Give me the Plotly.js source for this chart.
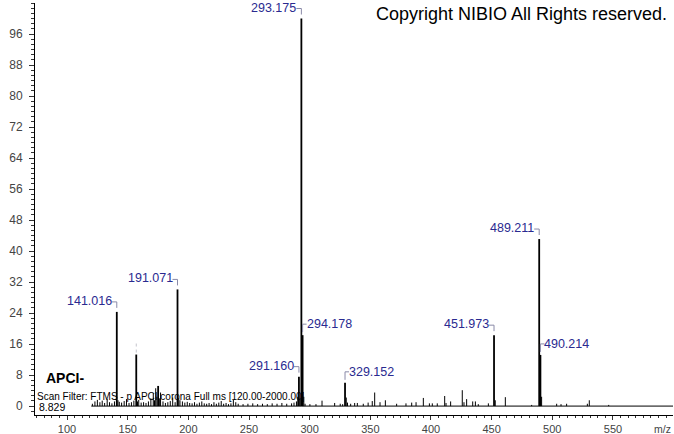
<!DOCTYPE html>
<html>
<head>
<meta charset="utf-8">
<script src="https://cdn.plot.ly/plotly-3.0.1.min.js"></script>
<style>html,body{margin:0;padding:0;background:#fff;}#chart{width:674px;height:434px;}</style>
</head>
<body>
<div id="chart"></div>
<script>
// Spectrum peaks (m/z, relative abundance)
const mz = [
  120.9,123.0,125.0,127.1,129.0,131.0,133.1,135.0,137.0,139.1,
  141.016,142.0,143.1,145.0,147.1,149.0,151.1,153.1,155.1,157.07,
  158.1,159.1,161.1,163.1,165.1,167.1,169.1,171.1,172.1,173.1,
  174.1,175.1,176.1,177.1,179.1,181.1,183.1,185.1,187.1,189.1,
  191.071,192.1,193.1,195.1,197.1,199.1,201.1,203.1,205.1,207.1,
  209.1,211.1,213.1,215.1,217.1,219.1,221.1,223.1,225.1,227.1,
  229.1,231.1,233.1,235.1,237.1,239.1,241.1,245.1,249.1,253.1,
  257.1,261.1,265.1,269.1,273.1,277.1,281.1,285.1,287.1,289.1,
  290.2,291.160,292.2,293.175,294.178,295.18,296.2,300.2,305.2,310.2,
  320.6,325.2,327.2,329.152,330.16,331.2,333.8,337.1,339.3,344.2,
  348.2,351.6,353.6,358.0,362.4,371.7,379.4,384.1,387.7,393.7,
  398.7,401.1,405.2,411.3,412.4,416.2,425.8,427.2,429.4,434.4,
  436.6,439.0,447.3,451.973,452.97,461.3,483.0,489.211,490.214,491.2,
  503.6,507.2,511.8,528.9,530.5,546.5
];
const intensity = [
  0.6,1.2,1.6,1.0,1.4,0.8,1.8,1.0,0.7,1.2,
  24.3,1.5,1.1,0.9,1.3,1.8,0.8,1.0,1.4,13.3,
  1.2,1.6,0.9,1.0,0.8,1.2,2.0,3.2,1.5,4.6,
  2.4,5.2,2.0,3.5,1.2,0.8,1.0,1.3,2.2,1.0,
  30.1,2.0,1.5,1.2,0.9,1.1,0.8,0.7,1.0,0.6,
  0.9,1.2,0.7,0.6,0.8,0.5,1.0,0.6,0.9,1.3,
  0.6,0.8,0.5,0.7,1.6,1.0,0.6,0.5,0.6,0.7,
  0.5,0.6,0.5,0.7,0.6,0.8,0.6,0.7,0.9,1.2,
  2.4,7.6,2.0,100,18.3,2.4,0.6,0.5,0.5,1.4,
  0.8,0.6,0.5,6.0,2.2,0.9,0.6,0.8,0.8,0.6,
  0.9,1.3,3.5,1.0,1.5,0.6,0.7,0.9,1.0,2.1,
  0.7,0.7,0.7,2.6,0.8,1.2,4.1,1.0,1.8,1.2,
  1.2,0.5,0.7,18.3,1.5,2.3,0.3,43.1,13.2,2.4,
  0.6,0.5,0.6,0.6,1.5,0.3
];
// Labelled peaks
const labelMz   = [141.016, 191.071, 291.160, 293.175, 294.178, 329.152, 451.973, 489.211, 490.214];
const labelInt  = [24.3, 30.1, 7.6, 100, 18.3, 6.0, 18.3, 43.1, 13.2];
const labelText = ['141.016','191.071','291.160','293.175','294.178','329.152','451.973','489.211','490.214'];
const labelSide = ['left','left','left','left','right','right','left','left','right'];
// Peak with an empty label bracket
const markMz  = [157.07];
const markInt = [13.3];
// Scan range of the acquisition
const scanRange = [120.00, 2000.00];
const xTicks = [100,150,200,250,300,350,400,450,500,550];
const yTicks = [0,8,16,24,32,40,48,56,64,72,80,88,96];

function sticks(filterFn){
  const xs = [], ys = [];
  for (let i = 0; i < mz.length; i++) {
    if (!filterFn(intensity[i])) continue;
    xs.push(mz[i], mz[i], null);
    ys.push(0, intensity[i], null);
  }
  return {xs, ys};
}
const big = sticks(v => v >= 5);
const small = sticks(v => v < 5);

const traces = [
  {x: scanRange, y: [0, 0], mode: 'lines', line: {color: '#000', width: 1}, hoverinfo: 'skip'},
  {x: small.xs, y: small.ys, mode: 'lines', line: {color: '#000', width: 1}, hoverinfo: 'skip'},
  {x: big.xs, y: big.ys, mode: 'lines', line: {color: '#000', width: 1.8}, hoverinfo: 'skip'}
];

const fontFam = 'Liberation Sans, Arial, sans-serif';
const annotations = [];
const shapes = [];
const labelColor = '#2a2a90';
const bracketColor = '#8a8aa8';
for (let i = 0; i < labelMz.length; i++) {
  const left = labelSide[i] === 'left';
  annotations.push({
    x: labelMz[i], y: labelInt[i], xref: 'x', yref: 'y',
    text: labelText[i], showarrow: false,
    xanchor: left ? 'right' : 'left', yanchor: 'middle',
    xshift: left ? -3 : 2, yshift: 11,
    font: {family: fontFam, size: 12.5, color: labelColor}
  });
  shapes.push({
    type: 'path', xref: 'x', yref: 'y',
    xsizemode: 'pixel', ysizemode: 'pixel',
    xanchor: labelMz[i], yanchor: labelInt[i],
    path: left ? 'M -5 10 L 0 10 L 0 4' : 'M 0 3 L 0 11 L 4 11',
    line: {color: bracketColor, width: 1}
  });
}
for (let i = 0; i < markMz.length; i++) {
  shapes.push({
    type: 'path', xref: 'x', yref: 'y',
    xsizemode: 'pixel', ysizemode: 'pixel',
    xanchor: markMz[i], yanchor: markInt[i],
    path: 'M 0 2 L 0 12',
    line: {color: '#c4c4cc', width: 1, dash: 'dot'}
  });
}
annotations.push(
  {xref: 'paper', yref: 'paper', x: 1, y: 1, xanchor: 'right', yanchor: 'middle', xshift: -4, yshift: -11,
   text: 'Copyright NIBIO All Rights reserved.', showarrow: false,
   font: {family: fontFam, size: 18, color: '#000'}},
  {xref: 'paper', yref: 'paper', x: 0, y: 0, xanchor: 'left', yanchor: 'middle', xshift: 9, yshift: 37,
   text: '<b>APCI-</b>', showarrow: false,
   font: {family: fontFam, size: 14, color: '#000'}},
  {xref: 'paper', yref: 'paper', x: 0, y: 0, xanchor: 'left', yanchor: 'middle', xshift: 0, yshift: 19,
   text: 'Scan Filter: FTMS - p APCI corona Full ms [120.00-2000.00]', showarrow: false,
   font: {family: fontFam, size: 10, color: '#000'}},
  {xref: 'paper', yref: 'paper', x: 0, y: 0, xanchor: 'left', yanchor: 'middle', xshift: 2, yshift: 8,
   text: '8.829', showarrow: false,
   font: {family: fontFam, size: 10.5, color: '#000'}},
  {xref: 'paper', yref: 'paper', x: 1, y: 0, xanchor: 'right', yanchor: 'top', xshift: 0, yshift: -6,
   text: 'm/z', showarrow: false,
   font: {family: fontFam, size: 10.5, color: '#444'}}
);

const layout = {
  width: 674, height: 434,
  margin: {l: 35, r: 1, t: 3, b: 19, pad: 0},
  paper_bgcolor: '#fff', plot_bgcolor: '#fff',
  showlegend: false,
  font: {family: fontFam, size: 11, color: '#444'},
  xaxis: {
    range: [73.6, 599.5], showgrid: false, zeroline: false,
    showline: true, linecolor: '#000', linewidth: 1,
    ticks: 'outside', ticklen: 4, tickcolor: '#333',
    tickmode: 'array', tickvals: xTicks, ticktext: xTicks.map(String),
    tickfont: {family: fontFam, size: 11, color: '#444'},
    minor: {tick0: 0, dtick: 6.25, ticks: 'outside', ticklen: 2, tickcolor: '#333'}
  },
  yaxis: {
    range: [-2.3, 104], showgrid: false, zeroline: false,
    showline: true, linecolor: '#000', linewidth: 1,
    ticks: 'outside', ticklen: 5, tickcolor: '#333',
    tickmode: 'array', tickvals: yTicks, ticktext: yTicks.map(String),
    ticklabelstandoff: 4,
    tickfont: {family: fontFam, size: 12, color: '#444'},
    minor: {tick0: 0, dtick: 4/3, ticks: 'outside', ticklen: 3, tickcolor: '#333'}
  },
  annotations: annotations,
  shapes: shapes
};

Plotly.newPlot('chart', traces, layout, {staticPlot: true, displayModeBar: false});
</script>
</body>
</html>
